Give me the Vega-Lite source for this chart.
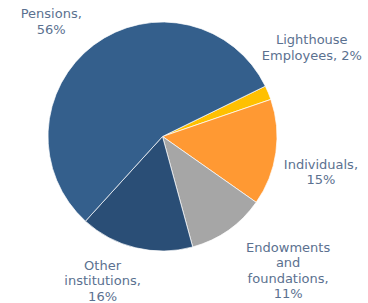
{
  "$schema": "https://vega.github.io/schema/vega-lite/v6.json",
  "autosize": {"type": "none"},
  "width": 325,
  "height": 273,
  "padding": {"left": 0, "top": 0, "right": 43, "bottom": 30},
  "background": "white",
  "view": {"stroke": null},
  "config": {"text": {"font": "DejaVu Sans", "fontSize": 13, "lineHeight": 15.5, "fill": "#5b7190", "align": "center", "baseline": "middle"}},
  "data": {
    "values": [
      {"cat": "Lighthouse Employees", "value": 2, "rank": 1, "label": ["Lighthouse", "Employees, 2%"]},
      {"cat": "Individuals", "value": 15, "rank": 2, "label": ["Individuals,", "15%"]},
      {"cat": "Endowments and foundations", "value": 11, "rank": 3, "label": ["Endowments", "and", "foundations,", "11%"]},
      {"cat": "Other institutions", "value": 16, "rank": 4, "label": ["Other", "institutions,", "16%"]},
      {"cat": "Pensions", "value": 56, "rank": 5, "label": ["Pensions,", "56%"]}
    ]
  },
  "encoding": {
    "theta": {"field": "value", "type": "quantitative", "stack": true, "scale": {"range": [1.1153, 7.3985]}},
    "order": {"field": "rank", "type": "quantitative"}
  },
  "layer": [
    {
      "mark": {"type": "arc", "outerRadius": 114.5, "stroke": "white", "strokeWidth": 0.7},
      "encoding": {
        "color": {
          "field": "cat", "type": "nominal", "legend": null,
          "scale": {
            "domain": ["Lighthouse Employees", "Individuals", "Endowments and foundations", "Other institutions", "Pensions"],
            "range": ["#ffc000", "#ff9933", "#a6a6a6", "#2a4e76", "#345f8c"]
          }
        }
      }
    },
    {
      "mark": {"type": "text", "radius": 173.6, "thetaOffset": -0.143, "dy": -7.75},
      "encoding": {"text": {"condition": {"test": "datum.cat === 'Lighthouse Employees'", "field": "label"}, "value": ""}}
    },
    {
      "mark": {"type": "text", "radius": 162.6, "thetaOffset": 0.086, "dy": -8.5},
      "encoding": {"text": {"condition": {"test": "datum.cat === 'Individuals'", "field": "label"}, "value": ""}}
    },
    {
      "mark": {"type": "text", "radius": 184.2, "thetaOffset": -0.138, "dy": -23.25},
      "encoding": {"text": {"condition": {"test": "datum.cat === 'Endowments and foundations'", "field": "label"}, "value": ""}}
    },
    {
      "mark": {"type": "text", "radius": 156.6, "thetaOffset": 0.157, "dy": -15.5},
      "encoding": {"text": {"condition": {"test": "datum.cat === 'Other institutions'", "field": "label"}, "value": ""}}
    },
    {
      "mark": {"type": "text", "radius": 159.8, "thetaOffset": -0.126, "dy": -7.75},
      "encoding": {"text": {"condition": {"test": "datum.cat === 'Pensions'", "field": "label"}, "value": ""}}
    }
  ]
}
